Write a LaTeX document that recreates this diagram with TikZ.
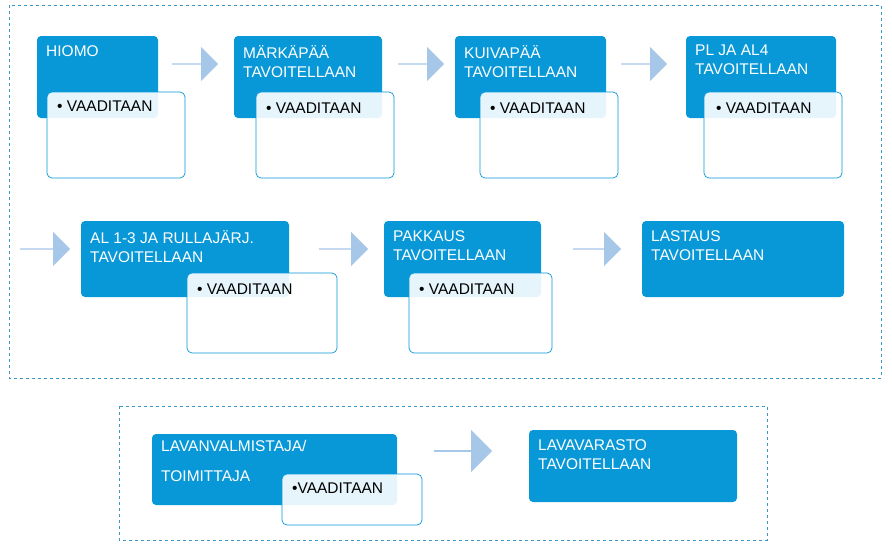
\documentclass[tikz,border=0pt]{standalone}
\usepackage{fontspec}
\setmainfont{Liberation Sans}
\usetikzlibrary{shapes.arrows}
\definecolor{bblue}{RGB}{8,152,216}
\definecolor{arr}{RGB}{166,199,232}
\definecolor{dash}{RGB}{60,150,200}
\tikzset{
 x=1pt,y=-1pt,
 bluebox/.style={fill=bblue,rounded corners=4pt},
 whitebox/.style={fill=white,fill opacity=0.9,draw=bblue,line width=0.7pt,rounded corners=5pt},
 btxt/.style={text=white,anchor=north west,align=left,font=\fontsize{15.5}{19}\selectfont,inner sep=0pt},
 wtxt/.style={text=black,anchor=north west,font=\fontsize{15.5}{19}\selectfont,inner sep=0pt},
 frame/.style={draw=dash,dashed,line width=0.6pt},
 arrowshape/.style={fill=arr,single arrow,single arrow head extend=5pt,minimum height=#1,minimum width=34pt,inner sep=0pt,anchor=west}
}
\newcommand{\bx}[8]{%
 \fill[bluebox] (#1,#2) rectangle (#3,#4);
 \node[btxt] (#8) at (#1+9,#2+9) {#5};
}
\begin{document}
\begin{tikzpicture}
\useasboundingbox (0,0) rectangle (892,547);
\fill[white] (0,0) rectangle (892,547);
\draw[frame] (9,5) rectangle (881,378);
\draw[frame] (119,406) rectangle (767,540);
% row1
\bx{37}{36}{158}{118}{HIOMO}{}{}{n1}
\draw[whitebox] (47,92) rectangle (185,178); \node[wtxt] (w1) at (57,101) {• VAADITAAN};
\bx{234}{36}{382}{118}{MÄRKÄPÄÄ\\TAVOITELLAAN}{}{}{n2}
\draw[whitebox] (256,92) rectangle (394,178); \node[wtxt] (w2) at (266,103) {• VAADITAAN};
\bx{455}{36}{606}{118}{KUIVAPÄÄ\\TAVOITELLAAN}{}{}{n3}
\draw[whitebox] (480,92) rectangle (618,178); \node[wtxt] (w3) at (490,103) {• VAADITAAN};
\bx{686}{36}{836}{118}{PL JA AL4\\TAVOITELLAAN}{}{}{n4}
\draw[whitebox] (704,92) rectangle (842,178); \node[wtxt] (w4) at (716,103) {• VAADITAAN};
\node[arrowshape=46pt] (a1) at (172,64) {};
\node[arrowshape=46pt] (a2) at (398,64) {};
\node[arrowshape=46pt] (a3) at (621,64) {};
% row2
\node[arrowshape=50pt] (a4) at (20,249) {};
\bx{81}{221}{289}{297}{AL 1-3 JA RULLAJÄRJ.\\TAVOITELLAAN}{}{}{n5}
\draw[whitebox] (187,273) rectangle (337,353); \node[wtxt] (w5) at (197,284) {• VAADITAAN};
\node[arrowshape=49pt] (a5) at (319,249) {};
\bx{384}{221}{541}{297}{PAKKAUS\\TAVOITELLAAN}{}{}{n6}
\draw[whitebox] (409,273) rectangle (552,353); \node[wtxt] (w6) at (419,284) {• VAADITAAN};
\node[arrowshape=48pt] (a6) at (573,249) {};
\bx{642}{221}{844}{297}{LASTAUS\\TAVOITELLAAN}{}{}{n7}
% row3
\fill[bluebox] (152,434) rectangle (397,505);
\node[btxt,align=left,font=\fontsize{15.5}{30}\selectfont] (n8) at (161,440) {LAVANVALMISTAJA/\\TOIMITTAJA};
\draw[whitebox] (282,474) rectangle (422,525); \node[wtxt] (w8) at (292,483) {•VAADITAAN};
\node[arrowshape=58pt,minimum width=42pt] (a7) at (434,451) {};
\bx{529}{430}{737}{502}{LAVAVARASTO\\TAVOITELLAAN}{}{}{n9}
\end{tikzpicture}
\end{document}
